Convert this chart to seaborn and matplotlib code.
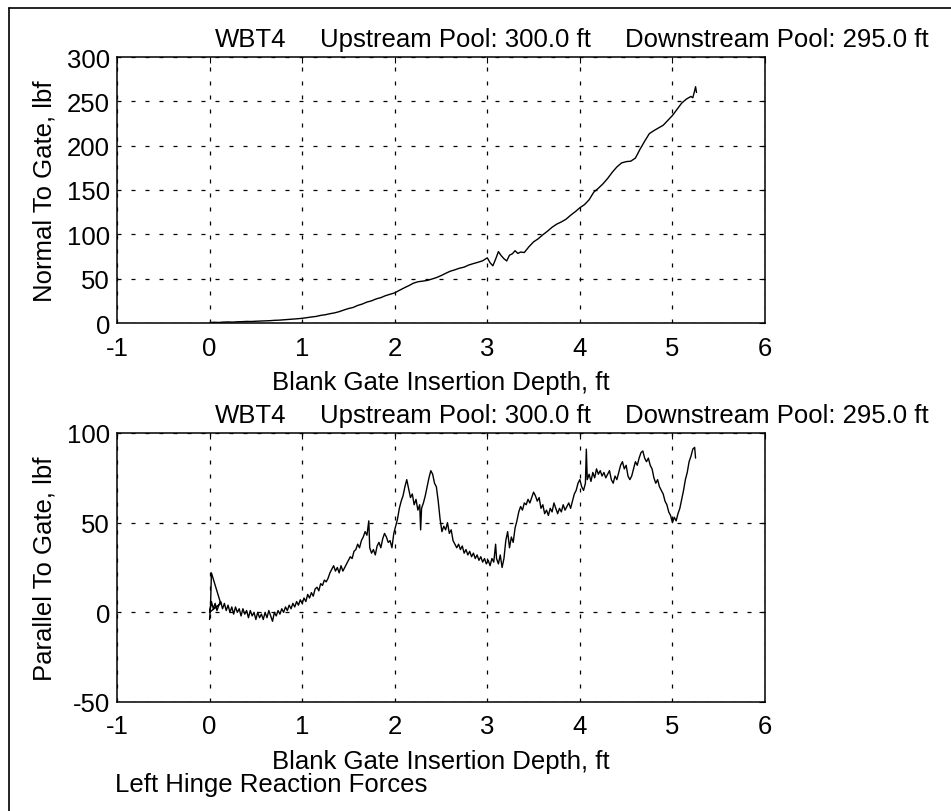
import matplotlib
matplotlib.use("Agg")
import matplotlib.pyplot as plt
import pandas as pd
import seaborn as sns

# Left hinge reaction, force normal to the gate (lbf) vs insertion depth (ft)
depth_normal = [0.00, 0.05, 0.10, 0.15, 0.20, 0.25, 0.30, 0.35, 0.40, 0.45,
                0.50, 0.55, 0.60, 0.65, 0.70, 0.75, 0.80, 0.85, 0.90, 0.95,
                1.00, 1.05, 1.10, 1.15, 1.20, 1.25, 1.30, 1.35, 1.40, 1.45,
                1.50, 1.55, 1.60, 1.65, 1.70, 1.75, 1.80, 1.85, 1.90, 1.95,
                2.00, 2.05, 2.10, 2.15, 2.20, 2.25, 2.30, 2.35, 2.40, 2.45,
                2.50, 2.55, 2.60, 2.65, 2.70, 2.75, 2.80, 2.85, 2.90, 2.95,
                3.00, 3.03, 3.06, 3.09, 3.12, 3.15, 3.18, 3.21, 3.24, 3.27,
                3.30, 3.33, 3.36, 3.40, 3.45, 3.50, 3.55, 3.60, 3.65, 3.70,
                3.75, 3.80, 3.85, 3.90, 3.95, 4.00, 4.05, 4.10, 4.15, 4.20,
                4.25, 4.30, 4.35, 4.40, 4.45, 4.50, 4.55, 4.60, 4.65, 4.70,
                4.75, 4.80, 4.85, 4.90, 4.95, 5.00, 5.05, 5.10, 5.15, 5.20,
                5.22, 5.24, 5.25, 5.26]
force_normal = [0.5, 0.8, 0.6, 1.0, 1.2, 1.0, 1.4, 1.5, 1.8, 1.7,
                2.0, 2.2, 2.4, 2.6, 3.0, 3.2, 3.6, 4.0, 4.4, 4.8,
                5.3, 6.0, 6.8, 7.4, 8.6, 9.3, 10.5, 11.4, 12.8, 14.6,
                16.3, 17.5, 19.8, 21.4, 23.6, 25.0, 27.2, 28.6, 30.8, 32.4,
                34.0, 36.8, 39.5, 42.0, 44.8, 46.5, 47.2, 48.0, 49.5, 51.2,
                53.4, 56.0, 58.4, 60.0, 61.8, 63.0, 65.4, 67.0, 68.5, 70.2,
                73.5, 68.0, 64.5, 72.0, 80.5, 76.0, 72.5, 70.0, 76.5, 78.0,
                81.5, 78.5, 80.0, 79.5, 86.0, 91.5, 95.0, 99.5, 103.5, 108.0,
                111.5, 114.0, 117.0, 121.5, 125.5, 130.0, 133.5, 139.0, 147.5, 152.0,
                157.0, 163.0, 170.0, 176.0, 180.5, 182.0, 182.5, 186.0, 196.0, 205.0,
                213.5, 217.0, 220.0, 223.0, 228.5, 234.0, 241.0, 248.0, 252.5, 255.5,
                254.0, 262.0, 266.5, 260.0]

# Left hinge reaction, force parallel to the gate (lbf) vs insertion depth (ft)
depth_parallel = [0.00, 0.01, 0.02, 0.12, 0.00, 0.02, 0.04, 0.06, 0.08, 0.10,
                  0.12, 0.14, 0.16, 0.18, 0.20, 0.22, 0.24, 0.26, 0.28, 0.30,
                  0.32, 0.34, 0.36, 0.38, 0.40, 0.42, 0.44, 0.46, 0.48, 0.50,
                  0.52, 0.54, 0.56, 0.58, 0.60, 0.62, 0.64, 0.66, 0.68, 0.70,
                  0.72, 0.74, 0.76, 0.78, 0.80, 0.82, 0.84, 0.86, 0.88, 0.90,
                  0.92, 0.94, 0.96, 0.98, 1.00, 1.02, 1.04, 1.06, 1.08, 1.10,
                  1.12, 1.14, 1.16, 1.18, 1.20, 1.22, 1.24, 1.26, 1.28, 1.30,
                  1.32, 1.34, 1.36, 1.38, 1.40, 1.42, 1.44, 1.46, 1.48, 1.50,
                  1.52, 1.54, 1.56, 1.58, 1.60, 1.62, 1.64, 1.66, 1.68, 1.70,
                  1.72, 1.73, 1.75, 1.77, 1.79, 1.81, 1.83, 1.85, 1.87, 1.89,
                  1.91, 1.93, 1.95, 1.97, 1.99, 2.01, 2.03, 2.05, 2.07, 2.09,
                  2.11, 2.13, 2.15, 2.17, 2.19, 2.21, 2.23, 2.25, 2.27, 2.28,
                  2.29, 2.31, 2.33, 2.35, 2.37, 2.39, 2.41, 2.43, 2.45, 2.47,
                  2.49, 2.51, 2.53, 2.55, 2.57, 2.59, 2.61, 2.63, 2.65, 2.67,
                  2.69, 2.71, 2.73, 2.75, 2.77, 2.79, 2.81, 2.83, 2.85, 2.87,
                  2.89, 2.91, 2.93, 2.95, 2.97, 2.99, 3.01, 3.03, 3.05, 3.07,
                  3.09, 3.10, 3.12, 3.14, 3.16, 3.18, 3.20, 3.22, 3.24, 3.26,
                  3.28, 3.30, 3.32, 3.34, 3.36, 3.38, 3.40, 3.42, 3.44, 3.46,
                  3.48, 3.50, 3.52, 3.54, 3.56, 3.58, 3.60, 3.62, 3.64, 3.66,
                  3.68, 3.70, 3.72, 3.74, 3.76, 3.78, 3.80, 3.82, 3.84, 3.86,
                  3.88, 3.90, 3.92, 3.94, 3.96, 3.98, 4.00, 4.02, 4.04, 4.06,
                  4.07, 4.08, 4.10, 4.12, 4.14, 4.16, 4.18, 4.20, 4.22, 4.24,
                  4.26, 4.28, 4.30, 4.32, 4.34, 4.36, 4.38, 4.40, 4.42, 4.44,
                  4.46, 4.48, 4.50, 4.52, 4.54, 4.56, 4.58, 4.60, 4.62, 4.64,
                  4.66, 4.68, 4.70, 4.72, 4.74, 4.76, 4.78, 4.80, 4.82, 4.84,
                  4.86, 4.88, 4.90, 4.92, 4.94, 4.96, 4.98, 5.00, 5.02, 5.04,
                  5.06, 5.08, 5.10, 5.12, 5.14, 5.16, 5.18, 5.20, 5.22, 5.24,
                  5.25]
force_parallel = [-4, 3, 22, 5, 0, 6, 2, 5, 1, 4,
                  6, 2, 5, 1, 4, 0, 3, -1, 3, 0,
                  2, -2, 2, -1, 1, -3, 1, -2, 0, -4,
                  0, -3, -1, -4, 0, -3, 1, -2, -5, 0,
                  -2, 1, -1, 2, 0, 3, 1, 4, 2, 5,
                  3, 6, 4, 7, 5, 8, 6, 10, 8, 11,
                  9, 13, 14, 12, 16, 15, 18, 17, 19, 22,
                  24, 26, 23, 25, 22, 26, 23, 25, 27, 29,
                  31, 30, 34, 35, 38, 36, 40, 42, 45, 43,
                  51, 36, 33, 35, 32, 37, 39, 36, 41, 44,
                  42, 39, 40, 36, 44, 48, 52, 58, 62, 65,
                  70, 74, 69, 64, 66, 60, 63, 57, 60, 46,
                  58, 61, 65, 70, 75, 79, 77, 72, 70, 62,
                  52, 45, 48, 46, 50, 44, 46, 40, 38, 36,
                  38, 35, 37, 33, 35, 32, 34, 31, 33, 30,
                  32, 29, 31, 28, 30, 27, 29, 26, 30, 28,
                  38, 30, 27, 32, 25, 30, 40, 45, 36, 42,
                  39, 47, 51, 56, 59, 57, 61, 60, 63, 61,
                  64, 67, 65, 62, 64, 58, 60, 55, 57, 54,
                  58, 56, 61, 58, 55, 58, 56, 60, 57, 59,
                  61, 58, 62, 66, 68, 72, 74, 70, 68, 72,
                  91, 74, 77, 73, 78, 75, 80, 77, 79, 76,
                  78, 75, 77, 79, 74, 72, 76, 74, 78, 82,
                  84, 80, 82, 76, 74, 76, 80, 84, 82, 86,
                  89, 90, 86, 84, 86, 82, 80, 75, 72, 74,
                  70, 68, 66, 62, 60, 56, 54, 50, 53, 51,
                  55, 58, 63, 68, 74, 78, 84, 87, 91, 92,
                  86]

depth_ticks = [-1, 0, 1, 2, 3, 4, 5, 6]
normal_ticks = [0, 50, 100, 150, 200, 250, 300]
parallel_ticks = [-50, 0, 50, 100]

heading_parts = ["WBT4", "Upstream Pool: 300.0 ft", "Downstream Pool: 295.0 ft"]
heading_x = [0.151, 0.313, 0.784]
x_label = "Blank Gate Insertion Depth, ft"
caption = "Left Hinge Reaction Forces"

FS = 18.5

sns.set_theme(style="white")
plt.rcParams["font.family"] = ["Liberation Sans", "DejaVu Sans"]
plt.rcParams.update({
    "font.size": FS,
    "axes.edgecolor": "black",
    "axes.linewidth": 1.1,
    "xtick.direction": "in",
    "ytick.direction": "in",
    "xtick.top": True,
    "ytick.right": True,
    "xtick.color": "black",
    "ytick.color": "black",
    "text.color": "black",
    "axes.labelcolor": "black",
})

W, H = 951, 812
fig = plt.figure(figsize=(W / 100, H / 100), dpi=100)
fig.patch.set_facecolor("white")

ax_top = fig.add_axes([117 / W, 1 - 324 / H, 648 / W, 266 / H])
ax_bot = fig.add_axes([117 / W, 1 - 703 / H, 648 / W, 269 / H])

df_normal = pd.DataFrame({"depth": depth_normal, "force": force_normal})
df_parallel = pd.DataFrame({"depth": depth_parallel, "force": force_parallel})

sns.lineplot(data=df_normal, x="depth", y="force", ax=ax_top, sort=False,
             estimator=None, color="black", linewidth=1.0)
sns.lineplot(data=df_parallel, x="depth", y="force", ax=ax_bot, sort=False,
             estimator=None, color="black", linewidth=1.0)

panels = [
    (ax_top, normal_ticks, "Normal To Gate, lbf"),
    (ax_bot, parallel_ticks, "Parallel To Gate, lbf"),
]
for ax, yt, ylab in panels:
    ax.set_xlim(depth_ticks[0], depth_ticks[-1])
    ax.set_ylim(yt[0], yt[-1])
    ax.set_xticks(depth_ticks)
    ax.set_yticks(yt)
    ax.set_xticklabels([str(t) for t in depth_ticks])
    ax.set_yticklabels([str(t) for t in yt])
    ax.tick_params(axis="x", length=4, width=0.8, pad=9, labelsize=FS)
    ax.tick_params(axis="y", length=4, width=0.8, pad=5, labelsize=FS)
    ax.grid(True, color="black", linestyle=(0, (3.2, 8.0)), linewidth=0.9)
    ax.set_xlabel(x_label, fontsize=FS)
    ax.set_ylabel(ylab, fontsize=FS)
    ax.xaxis.set_label_coords(0.5, -47 / ax.bbox.height)
    ax.yaxis.set_label_coords(-0.094, 0.5)
    for s in ax.spines.values():
        s.set_visible(True)
        s.set_color("black")
    for txt, xp in zip(heading_parts, heading_x):
        ax.text(xp, 1.0 + 11 / ax.bbox.height, txt, transform=ax.transAxes,
                ha="left", va="baseline", fontsize=FS)

fig.text(115 / W, 1 - 785 / H, caption, ha="left", va="center", fontsize=FS)

# page frame along the left and top edges
fig.add_artist(plt.Line2D([9 / W, 9 / W], [0, 1 - 9 / H], transform=fig.transFigure,
                          color="black", linewidth=1.2))
fig.add_artist(plt.Line2D([9 / W, 1], [1 - 9 / H, 1 - 9 / H], transform=fig.transFigure,
                          color="black", linewidth=1.2))

fig.savefig("out.png", dpi=100, facecolor="white")
